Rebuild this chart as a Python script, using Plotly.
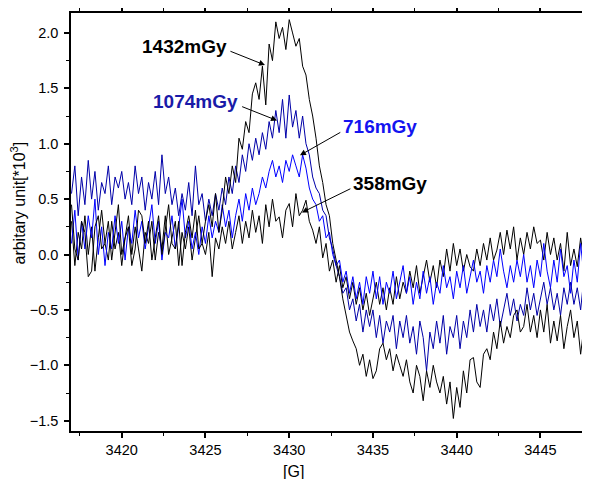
import plotly.graph_objects as go

# Field axis: 3417.0 G to 3448.0 G sampled every 0.2 G
FIELD_START = 3417.0
FIELD_STEP = 0.2
N_POINTS = 156
field = [round(FIELD_START + FIELD_STEP * i, 1) for i in range(N_POINTS)]

s1432 = [
    0.45, 0.05, -0.05, 0.30, 0.20,
    -0.20, -0.15, 0.25, 0.35, 0.05,
    0.10, 0.30, -0.05, 0.20, 0.45,
    0.00, 0.15, 0.25, -0.10, 0.05,
    0.40, 0.35, 0.10, 0.30, -0.05,
    0.15, 0.35, 0.00, 0.25, 0.45,
    0.10, 0.05, 0.30, -0.10, 0.20,
    0.35, 0.15, 0.40, 0.05, 0.10,
    0.30, 0.45, 0.25, 0.55, 0.20,
    0.40, 0.70, 0.55, 0.80, 0.65,
    1.05, 0.95, 1.20, 1.10, 1.45,
    1.55, 1.40, 1.70, 1.35, 1.90,
    1.75, 2.10, 1.95, 2.05, 1.85,
    2.12, 2.00, 1.88, 1.95, 1.70,
    1.62, 1.40, 1.25, 1.05, 0.80,
    0.65, 0.45, 0.35, 0.10, -0.05,
    -0.20, -0.40, -0.55, -0.70, -0.78,
    -0.85, -1.00, -0.90, -1.10, -0.95,
    -1.12, -1.05, -0.85, -0.80, -0.95,
    -0.85, -1.05, -0.90, -1.00, -1.10,
    -0.95, -1.15, -1.25, -1.00, -1.10,
    -1.32, -1.05, -1.20, -1.00, -1.15,
    -1.25, -1.10, -1.35, -1.15, -1.48,
    -1.20, -1.38, -1.05, -1.25, -0.95,
    -0.93, -1.15, -1.20, -0.90, -0.85,
    -0.95, -0.70, -0.85, -0.60, -0.80,
    -0.65, -0.75, -0.55, -0.50, -0.70,
    -0.65, -0.45, -0.70, -0.55, -0.75,
    -0.50, -0.70, -0.45, -0.80, -0.60,
    -0.78, -0.55, -0.85, -0.65, -0.50,
    -0.75, -0.60, -0.90, -0.65, -0.80,
    -0.55,
]

s1074 = [
    0.55, 0.80, 0.35, 0.70, 0.45,
    0.85, 0.50, 0.75, 0.40, 0.65,
    0.55, 0.80, 0.45, 0.70, 0.60,
    0.75, 0.50, 0.65, 0.45, 0.80,
    0.55, 0.70, 0.40, 0.65, 0.50,
    0.75, 0.45, 0.90, 0.55, 0.70,
    0.45, 0.60, 0.35, 0.55, 0.40,
    0.65, 0.35, 0.80, 0.45, 0.55,
    0.30, 0.50, 0.35, 0.55, 0.40,
    0.60, 0.45, 0.70, 0.55, 0.80,
    0.65, 0.90, 0.75, 1.00, 0.85,
    1.05, 0.90, 1.10, 0.95, 1.20,
    1.05, 1.30, 1.10, 1.40, 1.05,
    1.44, 1.15, 1.30, 1.05, 1.25,
    1.00, 0.90, 0.70, 0.60, 0.55,
    0.40, 0.35, 0.15, 0.05, -0.10,
    -0.20, -0.35, -0.30, -0.50, -0.40,
    -0.60, -0.45, -0.70, -0.50, -0.65,
    -0.50, -0.75, -0.55, -0.80, -0.60,
    -0.70, -0.55, -0.85, -0.60, -0.75,
    -0.55, -0.80, -0.65, -0.90, -0.60,
    -0.75, -1.05, -0.70, -0.85, -0.60,
    -0.80, -0.55, -0.90, -0.65, -0.75,
    -0.55, -0.85, -0.60, -0.75, -0.50,
    -0.70, -0.45, -0.65, -0.50, -0.70,
    -0.45, -0.60, -0.40, -0.65, -0.50,
    -0.35, -0.55, -0.40, -0.60, -0.45,
    -0.55, -0.30, -0.50, -0.35, -0.55,
    -0.40, -0.25, -0.45, -0.30, -0.50,
    -0.35, -0.55, -0.30, -0.45, -0.25,
    -0.45, -0.30, -0.50, -0.20, -0.40,
    -0.30,
]

s716 = [
    0.10, 0.40, -0.05, 0.30, 0.05,
    0.35, 0.15, 0.50, 0.00, 0.25,
    -0.10, 0.20, 0.05, 0.35, 0.10,
    0.30, -0.05, 0.25, 0.10, 0.40,
    0.15, 0.30, 0.05, 0.25, 0.45,
    0.10, 0.30, -0.05, 0.20, 0.15,
    0.35, 0.05, 0.25, 0.50, 0.15,
    0.30, 0.05, 0.20, 0.00, 0.25,
    0.10, 0.35, 0.15, 0.30, 0.20,
    0.45, 0.25, 0.40, 0.15, 0.35,
    0.50, 0.30, 0.55, 0.40, 0.60,
    0.45, 0.55, 0.70, 0.60, 0.75,
    0.85, 0.70, 0.80, 0.65, 0.85,
    0.75, 0.90, 0.80, 0.70, 0.90,
    0.78, 0.60, 0.50, 0.45, 0.30,
    0.35, 0.15, 0.20, 0.00, -0.10,
    -0.05, -0.25, -0.15, -0.35, -0.20,
    -0.40, -0.25, -0.45, -0.20, -0.35,
    -0.15, -0.40, -0.20, -0.45, -0.25,
    -0.35, -0.15, -0.40, -0.25, -0.10,
    -0.35, -0.20, -0.45, -0.25, -0.40,
    -0.15, -0.35, -0.20, -0.45, -0.25,
    -0.35, -0.10, -0.30, -0.20, -0.40,
    -0.15, -0.30, -0.10, -0.35, -0.20,
    -0.05, -0.25, -0.15, -0.35, -0.10,
    -0.25, -0.05, -0.20, 0.05, -0.15,
    -0.30, -0.10, -0.25, -0.05, -0.20,
    0.00, -0.25, -0.10, -0.30, -0.05,
    -0.20, 0.10, -0.15, -0.30, -0.05,
    -0.25, 0.05, -0.20, -0.10, -0.35,
    -0.05, -0.25, 0.10, -0.20, -0.30,
    -0.10,
]

s358 = [
    0.30, -0.10, 0.20, 0.05, 0.35,
    0.00, 0.25, -0.15, 0.15, 0.40,
    0.10, -0.05, 0.30, 0.05, 0.20,
    -0.10, 0.15, 0.35, 0.00, 0.25,
    0.05, -0.15, 0.20, 0.10, 0.30,
    -0.05, 0.20, 0.05, 0.35, 0.00,
    0.15, 0.30, -0.10, 0.20, 0.05,
    0.25, -0.05, 0.15, 0.35, 0.10,
    0.00, 0.20, -0.20, 0.15, 0.05,
    0.25, 0.10, 0.30, 0.05, 0.20,
    0.35, 0.10, 0.30, 0.15, 0.40,
    0.20, 0.35, 0.10, 0.45, 0.25,
    0.50, 0.30, 0.34, 0.15, 0.40,
    0.46, 0.25, 0.55, 0.35, 0.40,
    0.49, 0.30, 0.22, 0.10, 0.25,
    -0.03, 0.10, -0.15, -0.05, -0.25,
    -0.10, -0.30, -0.20, -0.40, -0.25,
    -0.45, -0.30, -0.50, -0.35, -0.55,
    -0.40, -0.25, -0.45, -0.30, -0.50,
    -0.30, -0.45, -0.20, -0.40, -0.25,
    -0.35, -0.15, -0.30, -0.10, -0.35,
    -0.20, -0.05, -0.25, -0.10, -0.30,
    -0.05, -0.20, 0.05, -0.15, 0.10,
    -0.10, 0.05, -0.15, 0.00, -0.11,
    -0.15, 0.05, -0.10, 0.10, -0.05,
    0.15, -0.05, 0.04, 0.20, 0.00,
    0.22, 0.05, 0.25, -0.05, 0.15,
    0.00, 0.20, 0.05, 0.25, 0.10,
    0.13, -0.05, 0.20, 0.00, 0.15,
    -0.05, 0.10, -0.15, 0.20, -0.10,
    0.05, -0.11, 0.15, -0.05, 0.10,
    0.00,
]

series_names = ["358mGy", "716mGy", "1074mGy", "1432mGy"]
series_values = [s358, s716, s1074, s1432]
line_colors = ["#000000", "#0000ff", "#0000a8", "#000000"]
label_colors = {"1432mGy": "#000000", "1074mGy": "#1a1aa8",
                "716mGy": "#1414f0", "358mGy": "#000000"}

# label centre (field, value), arrow tail (field, value), arrow head (field, value)
label_pos = {
    "1432mGy": (3423.72, 1.88),
    "1074mGy": (3424.43, 1.38),
    "716mGy": (3435.44, 1.157),
    "358mGy": (3436.0, 0.642),
}
arrow_tail = {
    "1432mGy": (3426.4, 1.84),
    "1074mGy": (3427.1, 1.34),
    "716mGy": (3433.14, 1.11),
    "358mGy": (3433.74, 0.60),
}
arrow_head = {
    "1432mGy": (3428.55, 1.71),
    "1074mGy": (3429.27, 1.21),
    "716mGy": (3430.64, 0.895),
    "358mGy": (3430.76, 0.38),
}

FONT = "Liberation Sans, Arial, sans-serif"

# The page body has an 8 px default margin, so the figure is offset by 8 px.
OFFSET = 8
FIG_W, FIG_H = 590 - OFFSET, 479 - OFFSET
plot_l, plot_t, plot_w, plot_h = 71 - OFFSET, 13 - OFFSET, 518, 418

fig = go.Figure()
for name, vals, col in zip(series_names, series_values, line_colors):
    fig.add_trace(go.Scatter(x=field, y=vals, mode="lines", name=name,
                             line=dict(color=col, width=1), showlegend=False))

annotations = []
for name in series_names:
    lx, ly = label_pos[name]
    annotations.append(dict(x=lx, y=ly, xref="x", yref="y", text="<b>%s</b>" % name,
                            showarrow=False, font=dict(family=FONT, size=19,
                                                       color=label_colors[name])))
    hx, hy = arrow_head[name]
    tx, ty = arrow_tail[name]
    annotations.append(dict(x=hx, y=hy, ax=tx, ay=ty, xref="x", yref="y",
                            axref="x", ayref="y", text="", showarrow=True,
                            arrowhead=2, arrowsize=1.2, arrowwidth=1,
                            arrowcolor="#000000"))


def px_to_paper(px, py):
    # px, py in window pixels
    return (px - OFFSET - plot_l) / plot_w, 1 - (py - OFFSET - plot_t) / plot_h


xt, yt = px_to_paper(293, 472)
annotations.append(dict(x=xt, y=yt, xref="paper", yref="paper", text="[G]",
                        showarrow=False, xanchor="center", yanchor="middle",
                        font=dict(family=FONT, size=16)))
xt, yt = px_to_paper(18, 203.5)
annotations.append(dict(x=xt, y=yt, xref="paper", yref="paper",
                        text="arbitary unit[*10<sup>3</sup>]", textangle=-90,
                        showarrow=False, xanchor="center", yanchor="middle",
                        font=dict(family=FONT, size=16)))

fig.update_layout(
    width=FIG_W, height=FIG_H,
    margin=dict(l=plot_l, r=FIG_W - plot_l - plot_w, t=plot_t,
                b=FIG_H - plot_t - plot_h, autoexpand=False),
    paper_bgcolor="white", plot_bgcolor="white",
    font=dict(family=FONT, size=14, color="#000000"),
    xaxis=dict(range=[3416.97, 3447.9], showgrid=False, zeroline=False,
               showline=True, linecolor="#000000", linewidth=1.5, mirror="allticks",
               ticks="outside", ticklen=5, tickwidth=1.5, tickcolor="#000000",
               tick0=3420, dtick=5, tickfont=dict(size=14.5),
               minor=dict(ticks="outside", ticklen=3, tickwidth=1.2,
                          tickcolor="#000000", dtick=2.5, tick0=3420)),
    yaxis=dict(range=[-1.593, 2.18], showgrid=False, zeroline=False,
               showline=True, linecolor="#000000", linewidth=1.5,
               ticks="outside", ticklen=5, tickwidth=1.5, tickcolor="#000000",
               tick0=0, dtick=0.5, tickformat=".1f", tickfont=dict(size=14.5),
               ticklabelstandoff=3,
               minor=dict(ticks="outside", ticklen=3, tickwidth=1.2,
                          tickcolor="#000000", dtick=0.25, tick0=0)),
    annotations=annotations,
)

fig.write_html("out.html")
